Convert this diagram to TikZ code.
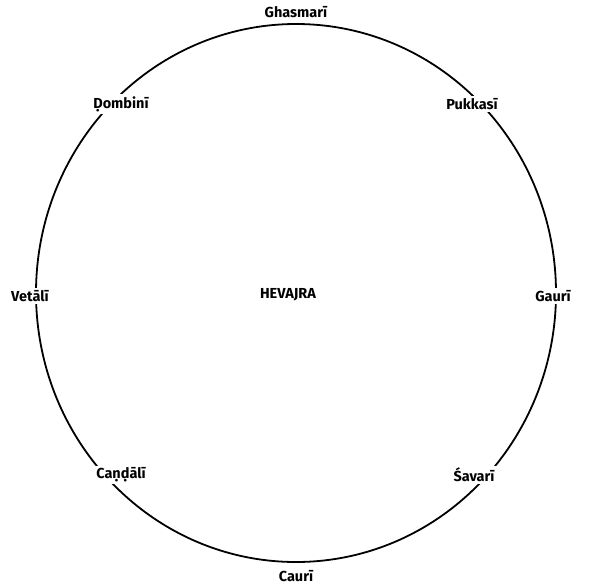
\documentclass[tikz,border=0pt]{standalone}
\usepackage{fontspec}
\setmainfont{Fira Sans}
\begin{document}
\begin{tikzpicture}[x=1pt,y=-1pt,
  lbl/.style={fill=white,inner sep=2pt,font=\fontsize{14.5}{16}\selectfont\bfseries},
  ring/.style={draw=black,line width=1.8pt}]
\useasboundingbox (0,0) rectangle (591,587);
\coordinate (c) at (296,293);
\draw[ring] (c) ellipse [x radius=260, y radius=269];
\node[lbl] (gh) at (296,12) {Ghasmarī};
\node[lbl] (do) at (121,104) {Ḍombinī};
\node[lbl] (pu) at (472,104) {Pukkasī};
\node[lbl] (ve) at (30,296) {Vetālī};
\node[lbl] (ga) at (553,296) {Gaurī};
\node[lbl] (ca) at (121,475) {Caṇḍālī};
\node[lbl] (sa) at (474,475) {Śavarī};
\node[lbl] (cu) at (296,576) {Caurī};
\node[lbl] (hv) at (288,295) {HEVAJRA};
\end{tikzpicture}
\end{document}
